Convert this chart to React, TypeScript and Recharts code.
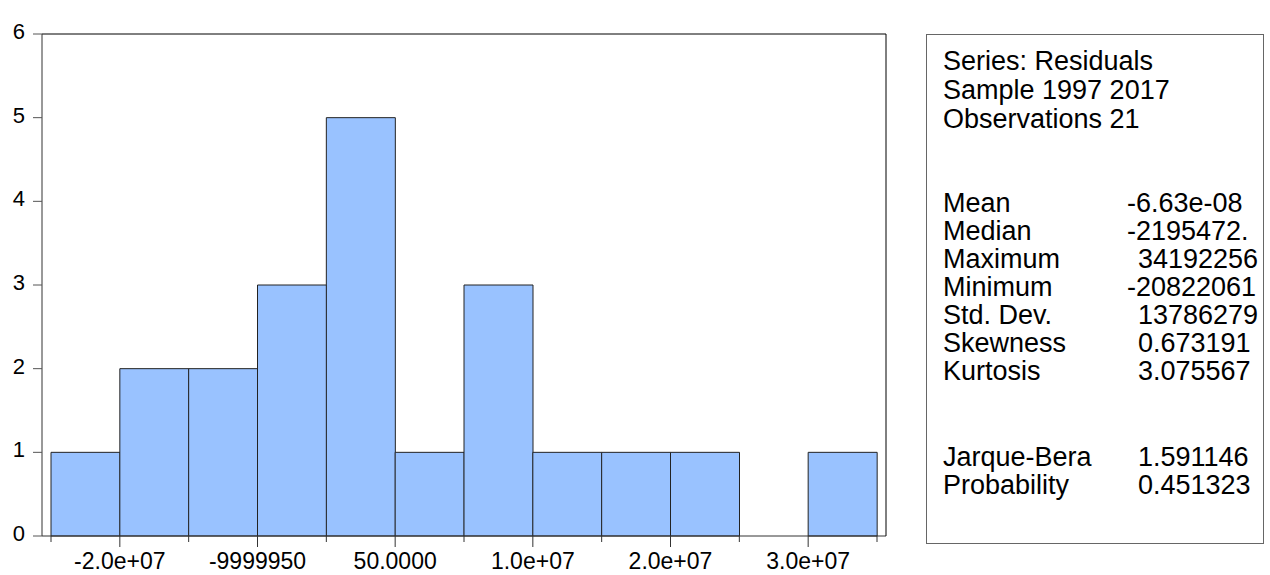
import React from 'react';
import { BarChart, Bar, XAxis, YAxis } from 'recharts';

// histogram of residuals, bin width 5e6
const binStarts = [-24999950, -19999950, -14999950, -9999950, -4999950, 50, 5000050, 10000050, 15000050, 20000050, 25000050, 30000050];
const counts = [1, 2, 2, 3, 5, 1, 3, 1, 1, 1, 0, 1];
const binEdges = [-24999950, -19999950, -14999950, -9999950, -4999950, 50, 5000050, 10000050, 15000050, 20000050, 25000050, 30000050, 35000050];
const edgeLabels = ['', '-2.0e+07', '', '-9999950', '', '50.0000', '', '1.0e+07', '', '2.0e+07', '', '3.0e+07', ''];
const yTicks = [0, 1, 2, 3, 4, 5, 6];

const statsHead = ['Series: Residuals', 'Sample 1997 2017', 'Observations 21'];
const statNames = ['Mean', 'Median', 'Maximum', 'Minimum', 'Std. Dev.', 'Skewness', 'Kurtosis'];
const statValues = ['-6.63e-08', '-2195472.', '34192256', '-20822061', '13786279', '0.673191', '3.075567'];
const testNames = ['Jarque-Bera', 'Probability'];
const testValues = ['1.591146', '0.451323'];

const data = binStarts.map((b, i) => ({ bin: b, count: counts[i] }));
const FONT = 'Arial, "Liberation Sans", sans-serif';

const renderEdgeTick = (props: any) => {
  const { x, y, payload } = props;
  const i = binEdges.indexOf(payload.value);
  const label = edgeLabels[i] ?? '';
  const len = label ? 11 : 6;
  return (
    <g key={`e-${i}`}>
      <line x1={x} y1={y} x2={x} y2={y + len} stroke="#333" />
      {label && (
        <text x={x} y={y + 33} textAnchor="middle" fontSize={23} fill="#000" fontFamily={FONT}>
          {label}
        </text>
      )}
    </g>
  );
};

const renderYTick = (props: any) => {
  const { x, y, payload } = props;
  return (
    <text key={`y-${payload.value}`} x={x} y={y} dy={5} textAnchor="end" fontSize={22} fill="#000" fontFamily={FONT}>
      {payload.value}
    </text>
  );
};

const Row = ({ name, value, top }: { name: string; value?: string; top: number }) => (
  <div style={{ position: 'absolute', left: 16, top, whiteSpace: 'pre' }}>
    <span>{name}</span>
    {value !== undefined && (
      <span style={{ position: 'absolute', left: value.startsWith('-') ? 184 : 195 }}>{value}</span>
    )}
  </div>
);

export default function App() {
  return (
    <div style={{ position: 'absolute', left: 0, top: 0, width: 1270, height: 575, background: '#fff', fontFamily: FONT }}>
      <BarChart
        width={900}
        height={575}
        data={data}
        barCategoryGap={0}
        margin={{ top: 33, right: 13, left: 0, bottom: 0 }}
      >
        <XAxis xAxisId="bin" dataKey="bin" hide height={0} padding={{ left: 9, right: 9 }} />
        <XAxis
          xAxisId="val"
          dataKey="bin"
          type="number"
          domain={[binEdges[0], binEdges[binEdges.length - 1]]}
          ticks={binEdges}
          interval={0}
          padding={{ left: 9, right: 9 }}
          height={39}
          tickSize={0}
          tickMargin={0}
          tickLine={false}
          tick={renderEdgeTick}
          axisLine={{ stroke: '#333' }}
          allowDataOverflow
        />
        <XAxis
          xAxisId="top"
          orientation="top"
          type="number"
          domain={[0, 1]}
          height={1}
          tick={false}
          tickLine={false}
          axisLine={{ stroke: '#000' }}
        />
        <YAxis
          domain={[0, 6]}
          ticks={yTicks}
          interval={0}
          width={42}
          tickSize={9}
          tickMargin={8}
          tick={renderYTick}
          axisLine={{ stroke: '#333' }}
          tickLine={{ stroke: '#555' }}
        />
        <YAxis
          yAxisId="r"
          orientation="right"
          type="number"
          domain={[0, 6]}
          width={1}
          tick={false}
          tickLine={false}
          axisLine={{ stroke: '#000' }}
        />
        <Bar xAxisId="bin" dataKey="count" fill="#99c2ff" stroke="#222" strokeWidth={1} isAnimationActive={false} />
      </BarChart>
      <div
        style={{
          position: 'absolute',
          left: 926,
          top: 34,
          width: 336,
          height: 508,
          border: '1px solid #666',
          fontSize: 27,
          lineHeight: '28px',
          color: '#000',
        }}
      >
        {statsHead.map((s, i) => (
          <Row key={s} name={s} top={12 + i * 29} />
        ))}
        {statNames.map((s, i) => (
          <Row key={s} name={s} value={statValues[i]} top={154 + i * 28} />
        ))}
        {testNames.map((s, i) => (
          <Row key={s} name={s} value={testValues[i]} top={408 + i * 28} />
        ))}
      </div>
    </div>
  );
}
